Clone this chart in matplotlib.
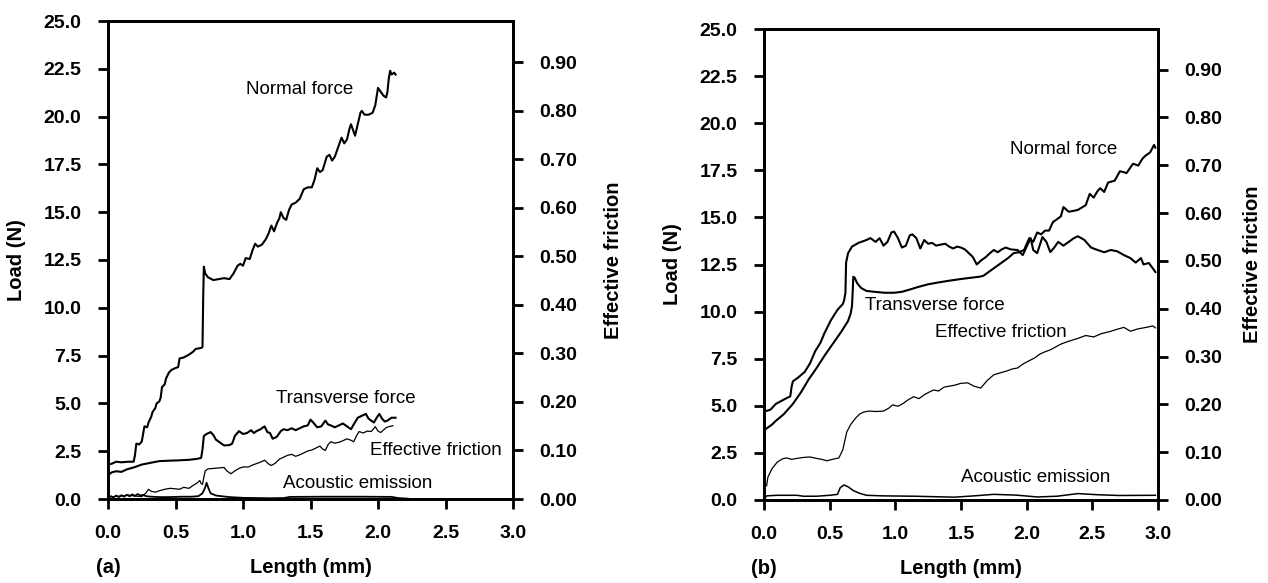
import matplotlib
matplotlib.use("Agg")
import matplotlib.pyplot as plt

plt.rcParams['font.family'] = ['Liberation Sans', 'DejaVu Sans']

# ---------------- data ----------------
x_ticks = [0.0, 0.5, 1.0, 1.5, 2.0, 2.5, 3.0]
x_tick_labels = ["0.0", "0.5", "1.0", "1.5", "2.0", "2.5", "3.0"]
load_ticks = [0.0, 2.5, 5.0, 7.5, 10.0, 12.5, 15.0, 17.5, 20.0, 22.5, 25.0]
load_tick_labels = ["0.0", "2.5", "5.0", "7.5", "10.0", "12.5", "15.0", "17.5", "20.0", "22.5", "25.0"]
fric_ticks = [0.0, 0.1, 0.2, 0.3, 0.4, 0.5, 0.6, 0.7, 0.8, 0.9]
fric_tick_labels = ["0.00", "0.10", "0.20", "0.30", "0.40", "0.50", "0.60", "0.70", "0.80", "0.90"]

# Panel (a)
normal_a_x = [0.00, 0.03, 0.06, 0.10, 0.15, 0.19, 0.20, 0.21, 0.23, 0.25, 0.26, 0.27, 0.29, 0.30, 0.32, 0.33,
              0.35, 0.36, 0.38, 0.39, 0.40, 0.42, 0.43, 0.45, 0.47, 0.50, 0.52, 0.53, 0.56, 0.60, 0.63, 0.65,
              0.69, 0.70, 0.705, 0.71, 0.72, 0.74, 0.78, 0.82, 0.86, 0.90, 0.93, 0.96, 0.98, 1.00, 1.02, 1.05,
              1.07, 1.09, 1.11, 1.14, 1.17, 1.19, 1.21, 1.23, 1.25, 1.27, 1.28, 1.30, 1.32, 1.34, 1.36, 1.39,
              1.42, 1.45, 1.48, 1.51, 1.53, 1.55, 1.57, 1.59, 1.62, 1.64, 1.66, 1.68, 1.71, 1.73, 1.75, 1.77,
              1.79, 1.80, 1.82, 1.83, 1.85, 1.87, 1.88, 1.90, 1.93, 1.96, 1.98, 2.00, 2.02, 2.04, 2.06, 2.07,
              2.08, 2.09, 2.10, 2.12, 2.13]
normal_a_y = [1.80, 1.85, 1.95, 1.92, 1.95, 1.95, 2.30, 2.90, 2.85, 3.00, 3.40, 3.80, 3.75, 4.00, 4.30, 4.55,
              4.75, 5.00, 5.10, 5.30, 5.85, 6.00, 6.30, 6.60, 6.75, 6.85, 6.90, 7.35, 7.40, 7.55, 7.70, 7.85,
              7.90, 7.95, 10.50, 12.15, 11.80, 11.60, 11.45, 11.50, 11.55, 11.50, 11.80, 12.20, 12.30, 12.20, 12.60, 12.55,
              13.00, 13.35, 13.20, 13.30, 13.60, 13.90, 14.30, 14.00, 14.40, 14.70, 15.00, 14.70, 14.60, 15.10, 15.40, 15.50,
              15.70, 16.20, 16.30, 16.30, 16.70, 17.30, 17.10, 17.20, 17.90, 18.00, 17.70, 17.90, 18.50, 18.90, 18.60, 18.80,
              19.40, 19.60, 19.20, 19.00, 19.60, 20.20, 20.30, 20.10, 20.10, 20.20, 20.60, 21.50, 21.30, 21.10, 21.00, 21.30,
              22.00, 22.40, 22.20, 22.30, 22.20]

transverse_a_x = [0.00, 0.03, 0.06, 0.10, 0.14, 0.19, 0.25, 0.32, 0.38, 0.44, 0.52, 0.60, 0.66, 0.69, 0.70, 0.71,
                  0.73, 0.76, 0.78, 0.80, 0.83, 0.86, 0.90, 0.92, 0.94, 0.97, 1.00, 1.03, 1.06, 1.08, 1.10, 1.13,
                  1.16, 1.18, 1.20, 1.22, 1.25, 1.28, 1.30, 1.33, 1.36, 1.39, 1.42, 1.45, 1.48, 1.50, 1.52, 1.55,
                  1.58, 1.61, 1.63, 1.65, 1.68, 1.71, 1.74, 1.77, 1.80, 1.82, 1.85, 1.88, 1.91, 1.93, 1.95, 1.97,
                  1.99, 2.01, 2.03, 2.05, 2.07, 2.10, 2.13]
transverse_a_y = [1.25, 1.40, 1.45, 1.42, 1.55, 1.65, 1.80, 1.90, 1.98, 2.00, 2.02, 2.05, 2.10, 2.15, 2.60, 3.30,
                  3.40, 3.50, 3.35, 3.10, 2.95, 2.80, 2.82, 2.90, 3.30, 3.55, 3.40, 3.45, 3.60, 3.45, 3.55, 3.65,
                  3.80, 3.50, 3.45, 3.15, 3.25, 3.55, 3.65, 3.60, 3.70, 3.60, 3.70, 3.80, 3.85, 4.15, 4.00, 3.75,
                  3.80, 4.10, 3.90, 3.85, 3.75, 3.85, 3.95, 3.80, 3.65, 3.90, 4.25, 4.35, 4.45, 4.20, 4.10, 4.00,
                  4.25, 4.45, 4.20, 4.05, 4.10, 4.25, 4.25]

friction_a_x = [0.00, 0.05, 0.10, 0.15, 0.20, 0.25, 0.28, 0.30, 0.32, 0.35, 0.38, 0.42, 0.46, 0.50, 0.53, 0.56,
                0.60, 0.63, 0.66, 0.68, 0.69, 0.70, 0.71, 0.72, 0.74, 0.78, 0.82, 0.86, 0.88, 0.91, 0.94, 0.97,
                1.00, 1.04, 1.07, 1.10, 1.13, 1.16, 1.19, 1.21, 1.24, 1.27, 1.30, 1.33, 1.36, 1.39, 1.42, 1.45,
                1.48, 1.51, 1.54, 1.57, 1.59, 1.61, 1.63, 1.65, 1.68, 1.71, 1.74, 1.77, 1.80, 1.82, 1.84, 1.86,
                1.89, 1.92, 1.95, 1.98, 2.00, 2.02, 2.04, 2.06, 2.08, 2.11]
friction_a_y = [0.004, 0.005, 0.006, 0.008, 0.006, 0.005, 0.012, 0.020, 0.016, 0.014, 0.017, 0.020, 0.022, 0.021, 0.020, 0.024,
                0.022, 0.028, 0.033, 0.038, 0.032, 0.030, 0.045, 0.058, 0.062, 0.063, 0.064, 0.065, 0.058, 0.052, 0.058, 0.063,
                0.066, 0.066, 0.070, 0.073, 0.076, 0.080, 0.072, 0.069, 0.074, 0.082, 0.086, 0.090, 0.092, 0.088, 0.091, 0.095,
                0.099, 0.101, 0.105, 0.109, 0.103, 0.100, 0.112, 0.118, 0.115, 0.117, 0.120, 0.124, 0.121, 0.118, 0.130, 0.139,
                0.136, 0.140, 0.139, 0.149, 0.140, 0.137, 0.142, 0.147, 0.149, 0.151]

acoustic_a_x = [0.00, 0.02, 0.04, 0.06, 0.08, 0.10, 0.12, 0.14, 0.16, 0.18, 0.20, 0.22, 0.24, 0.26, 0.28, 0.32,
                0.38, 0.45, 0.55, 0.62, 0.67, 0.70, 0.72, 0.73, 0.745, 0.76, 0.80, 0.90, 1.00, 1.20, 1.30, 1.35,
                1.60, 1.90, 2.10, 2.15, 2.22]
acoustic_a_y = [0.05, 0.15, 0.08, 0.18, 0.10, 0.20, 0.12, 0.22, 0.14, 0.24, 0.16, 0.26, 0.18, 0.22, 0.15, 0.12,
                0.10, 0.10, 0.12, 0.12, 0.15, 0.30, 0.60, 0.85, 0.55, 0.30, 0.18, 0.10, 0.06, 0.04, 0.05, 0.11,
                0.12, 0.12, 0.11, 0.05, 0.02]

# Panel (b)
transverse_b_x = [0.00, 0.03, 0.05, 0.09, 0.13, 0.17, 0.20, 0.21, 0.22, 0.26, 0.31, 0.35, 0.39, 0.43, 0.46, 0.51,
                  0.56, 0.60, 0.61, 0.62, 0.625, 0.64, 0.67, 0.72, 0.78, 0.81, 0.85, 0.88, 0.91, 0.94, 0.97, 0.99,
                  1.02, 1.05, 1.08, 1.11, 1.13, 1.16, 1.19, 1.22, 1.25, 1.28, 1.31, 1.34, 1.38, 1.41, 1.44, 1.47,
                  1.50, 1.53, 1.56, 1.59, 1.62, 1.65, 1.69, 1.72, 1.75, 1.78, 1.81, 1.84, 1.88, 1.93, 1.97, 2.01,
                  2.03, 2.05, 2.08, 2.12, 2.15, 2.18, 2.21, 2.24, 2.28, 2.32, 2.36, 2.39, 2.44, 2.49, 2.54, 2.59,
                  2.64, 2.69, 2.74, 2.79, 2.83, 2.87, 2.89, 2.93, 2.96, 2.98]
transverse_b_y = [4.70, 4.75, 4.80, 5.10, 5.25, 5.40, 5.50, 6.00, 6.30, 6.50, 6.80, 7.25, 7.90, 8.35, 8.85, 9.55,
                  10.10, 10.40, 10.60, 11.00, 12.60, 13.10, 13.45, 13.65, 13.80, 13.90, 13.70, 13.90, 13.50, 13.70, 14.20, 14.25,
                  13.90, 13.40, 13.50, 14.05, 14.10, 13.90, 13.35, 13.80, 13.60, 13.65, 13.50, 13.55, 13.60, 13.45, 13.35, 13.45,
                  13.40, 13.30, 13.10, 12.90, 12.50, 12.70, 12.90, 13.10, 13.27, 13.15, 13.30, 13.40, 13.30, 13.27, 13.00, 13.60,
                  13.90, 13.27, 13.10, 13.96, 13.70, 13.16, 13.40, 13.70, 13.50, 13.70, 13.90, 14.00, 13.80, 13.40, 13.27, 13.15,
                  13.27, 13.20, 13.00, 12.84, 12.60, 12.84, 12.50, 12.58, 12.30, 12.10]

normal_b_x = [0.00, 0.03, 0.06, 0.09, 0.15, 0.22, 0.28, 0.34, 0.40, 0.46, 0.53, 0.59, 0.64, 0.66, 0.67, 0.675,
              0.68, 0.69, 0.71, 0.74, 0.78, 0.84, 0.92, 0.99, 1.05, 1.10, 1.17, 1.25, 1.33, 1.42, 1.50, 1.58,
              1.64, 1.67, 1.71, 1.75, 1.79, 1.83, 1.86, 1.90, 1.94, 1.98, 2.02, 2.05, 2.08, 2.11, 2.14, 2.17,
              2.20, 2.24, 2.26, 2.28, 2.32, 2.36, 2.39, 2.45, 2.48, 2.51, 2.54, 2.56, 2.59, 2.62, 2.67, 2.71,
              2.74, 2.76, 2.79, 2.81, 2.85, 2.88, 2.90, 2.94, 2.97, 2.98]
normal_b_y = [3.70, 3.85, 4.00, 4.20, 4.55, 5.10, 5.70, 6.40, 7.00, 7.65, 8.35, 8.95, 9.50, 9.90, 10.30, 11.00,
              11.85, 11.80, 11.50, 11.25, 11.10, 11.05, 11.00, 11.00, 11.05, 11.15, 11.30, 11.45, 11.55, 11.65, 11.73, 11.80,
              11.85, 11.90, 12.10, 12.30, 12.50, 12.70, 12.85, 13.10, 13.15, 13.27, 13.90, 13.70, 14.20, 14.10, 14.30, 14.30,
              14.75, 14.95, 15.05, 15.55, 15.30, 15.35, 15.40, 15.65, 16.25, 16.05, 16.40, 16.55, 16.35, 16.85, 16.95, 17.45,
              17.40, 17.35, 17.65, 17.85, 17.75, 18.10, 18.25, 18.45, 18.85, 18.70]

friction_b_x = [0.00, 0.02, 0.03, 0.06, 0.10, 0.14, 0.17, 0.21, 0.25, 0.30, 0.35, 0.40, 0.44, 0.48, 0.52, 0.57,
                0.60, 0.63, 0.66, 0.70, 0.73, 0.76, 0.80, 0.85, 0.91, 0.95, 0.98, 1.02, 1.06, 1.10, 1.14, 1.18,
                1.22, 1.26, 1.29, 1.33, 1.37, 1.41, 1.45, 1.50, 1.55, 1.60, 1.65, 1.70, 1.75, 1.80, 1.85, 1.89,
                1.93, 1.97, 2.01, 2.06, 2.10, 2.14, 2.18, 2.22, 2.26, 2.32, 2.39, 2.45, 2.51, 2.57, 2.63, 2.70,
                2.74, 2.79, 2.85, 2.91, 2.96, 2.98]
friction_b_y = [0.027, 0.030, 0.048, 0.065, 0.079, 0.086, 0.088, 0.085, 0.087, 0.089, 0.090, 0.087, 0.085, 0.082, 0.085, 0.088,
                0.105, 0.142, 0.158, 0.172, 0.180, 0.184, 0.186, 0.185, 0.186, 0.192, 0.199, 0.196, 0.202, 0.210, 0.216, 0.212,
                0.220, 0.226, 0.230, 0.228, 0.236, 0.238, 0.240, 0.244, 0.245, 0.238, 0.234, 0.250, 0.262, 0.266, 0.270, 0.274,
                0.276, 0.284, 0.290, 0.297, 0.305, 0.310, 0.314, 0.320, 0.326, 0.332, 0.338, 0.344, 0.341, 0.348, 0.352, 0.358,
                0.361, 0.353, 0.358, 0.361, 0.364, 0.360]

acoustic_b_x = [0.00, 0.02, 0.10, 0.25, 0.30, 0.40, 0.50, 0.56, 0.58, 0.61, 0.64, 0.68, 0.73, 0.78, 0.90, 1.15,
                1.45, 1.60, 1.75, 1.92, 2.08, 2.23, 2.39, 2.54, 2.70, 2.98]
acoustic_b_y = [0.05, 0.22, 0.25, 0.25, 0.20, 0.20, 0.25, 0.30, 0.65, 0.80, 0.70, 0.50, 0.35, 0.25, 0.22, 0.20,
                0.15, 0.22, 0.30, 0.26, 0.16, 0.20, 0.34, 0.28, 0.24, 0.25]

label_names = ["Normal force", "Transverse force", "Effective friction", "Acoustic emission"]
label_pos_a = [(1.42, 21.4), (1.76, 5.27), (2.43, 2.54), (1.85, 0.82)]
label_pos_b = [(2.28, 18.63), (1.30, 10.32), (1.80, 8.88), (2.07, 1.17)]

# ---------------- figure ----------------
W, H = 1268, 583
fig = plt.figure(figsize=(W / 100, H / 100), dpi=100)


def add_axes(l, r, b, t):
    return fig.add_axes([l / W, 1 - b / H, (r - l) / W, (b - t) / H])


TICK_FS = 14
LABEL_FS = 14.5
ANN_FS = 13.5


def setup(ax, letter, ylab_x, yrlab_x, xlab_y):
    ax2 = ax.twinx()
    ax.set_xlim(0, 3)
    ax.set_ylim(0, 25)
    ax2.set_ylim(0, 0.985)
    ax.set_xticks(x_ticks)
    ax.set_xticklabels(x_tick_labels, fontsize=TICK_FS, fontweight='bold')
    ax.set_yticks(load_ticks)
    ax.set_yticklabels(load_tick_labels, fontsize=TICK_FS, fontweight='bold')
    ax2.set_yticks(fric_ticks)
    ax2.set_yticklabels(fric_tick_labels, fontsize=TICK_FS, fontweight='bold')
    for a in (ax, ax2):
        for s in a.spines.values():
            s.set_linewidth(2.0)
    ax.tick_params(axis='both', direction='out', length=7, width=2.0, pad=12,
                   left=True, right=False, top=False, bottom=True)
    ax2.tick_params(axis='y', direction='out', length=7, width=2.0, pad=12,
                    right=True, left=False)
    ax.text(ylab_x, 0.5, "Load (N)", transform=ax.transAxes, rotation=90,
            ha='center', va='center', fontsize=LABEL_FS, fontweight='bold')
    ax.text(yrlab_x, 0.5, "Effective friction", transform=ax.transAxes, rotation=90,
            ha='center', va='center', fontsize=LABEL_FS, fontweight='bold')
    ax.text(0.5, xlab_y, "Length (mm)", transform=ax.transAxes,
            ha='center', va='center', fontsize=LABEL_FS, fontweight='bold')
    ax.text(0.0, xlab_y, letter, transform=ax.transAxes,
            ha='center', va='center', fontsize=LABEL_FS, fontweight='bold')
    return ax2


ax_a = add_axes(108, 513, 499, 21)
ax_a2 = setup(ax_a, "(a)", -0.227, 1.249, -0.144)
ax_a.plot(normal_a_x, normal_a_y, color='black', lw=1.5)
ax_a.plot(transverse_a_x, transverse_a_y, color='black', lw=1.5)
ax_a.plot(acoustic_a_x, acoustic_a_y, color='black', lw=1.3)
ax_a2.plot(friction_a_x, friction_a_y, color='black', lw=0.9)
for name, (px, py) in zip(label_names, label_pos_a):
    ax_a.text(px, py, name, ha='center', va='center', fontsize=ANN_FS)

ax_b = add_axes(764, 1158, 500, 29)
ax_b2 = setup(ax_b, "(b)", -0.231, 1.239, -0.146)
ax_b.plot(normal_b_x, normal_b_y, color='black', lw=1.5)
ax_b.plot(transverse_b_x, transverse_b_y, color='black', lw=1.5)
ax_b.plot(acoustic_b_x, acoustic_b_y, color='black', lw=1.1)
ax_b2.plot(friction_b_x, friction_b_y, color='black', lw=0.9)
for name, (px, py) in zip(label_names, label_pos_b):
    ax_b.text(px, py, name, ha='center', va='center', fontsize=ANN_FS)

fig.savefig("out.png", dpi=100)
